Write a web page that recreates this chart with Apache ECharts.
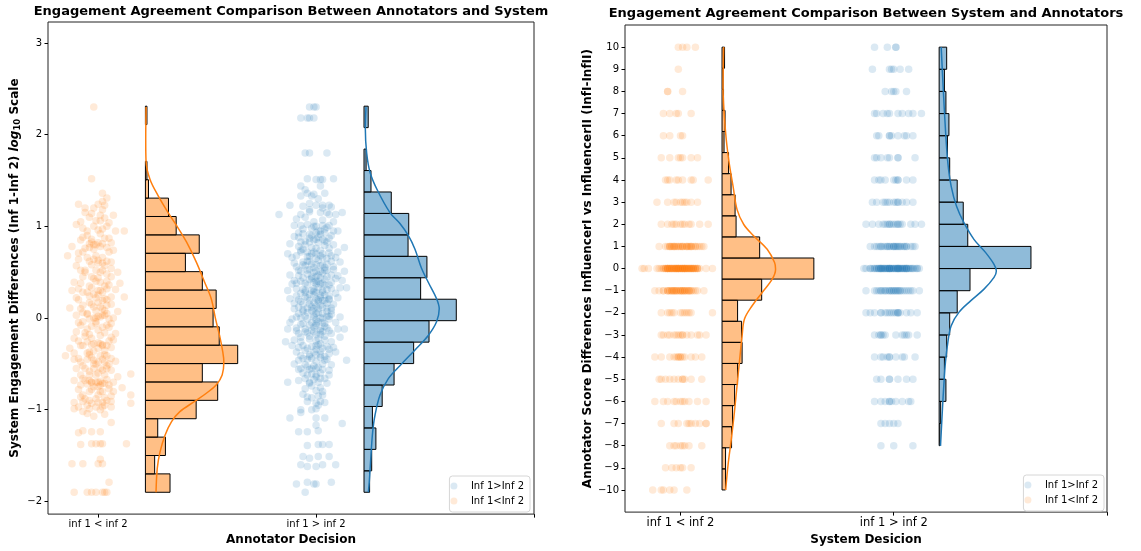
<!DOCTYPE html>
<html>
<head>
<meta charset="utf-8">
<script src="https://cdn.jsdelivr.net/npm/echarts@6/dist/echarts.min.js"></script>
<style>
html, body { margin: 0; padding: 0; background: #fff; }
#chart { width: 1141px; height: 551px; }
</style>
</head>
<body>
<div id="chart"></div>
<script>
// ---------- data ----------
const xTickLabels = ['inf 1 < inf 2', 'inf 1 > inf 2'];
const leftYTicks = [-2, -1, 0, 1, 2, 3];
const rightYTicks = [-10, -9, -8, -7, -6, -5, -4, -3, -2, -1, 0, 1, 2, 3, 4, 5, 6, 7, 8, 9, 10];
const seriesNames = ['Inf 1>Inf 2', 'Inf 1<Inf 2'];

// Left panel strip points: [jitter in hundredths of a category, log10 engagement difference]
const leftOrangePoints = [
  [-2,2.30],[-3,1.52],[2,1.36],[4,1.31],[-9,1.24],[-6,1.20],[0,1.24],[3,1.23],[2,1.27],[-3,1.14],[7,1.12],
  [-8,1.05],[-1,1.06],[1,1.06],[5,1.04],[8,0.95],[12,0.95],[-2,1.00],[2,0.97],[-5,0.90],[-7,0.88],[-3,0.83],
  [0,0.82],[6,0.82],[4,0.77],[-4,0.77],[-14,0.68],[-9,0.71],[-7,0.72],[5,0.72],[-1,0.68],[2,0.66],[-2,0.64],
  [6,0.61],[-8,0.52],[-6,0.52],[-1,0.52],[2,0.52],[6,0.54],[-11,0.39],[-2,0.43],[6,0.45],[10,0.38],[-4,0.35],
  [1,0.39],[-9,0.32],[4,0.32],[12,0.23],[-7,0.28],[-2,0.26],[2,0.28],[6,0.23],[-4,0.17],[0,0.17],[4,0.14],
  [-13,0.11],[-8,0.10],[-1,0.08],[9,0.07],[-4,-0.01],[2,0.03],[5,-0.01],[-7,-0.04],[-1,-0.04],[6,-0.06],
  [-11,-0.22],[-5,-0.12],[0,-0.13],[6,-0.21],[8,-0.17],[-7,-0.30],[-2,-0.28],[2,-0.29],[6,-0.32],[-15,-0.41],
  [-11,-0.38],[-4,-0.37],[1,-0.41],[4,-0.41],[-8,-0.48],[-5,-0.45],[-1,-0.50],[3,-0.48],[8,-0.47],[-6,-0.55],
  [-2,-0.55],[2,-0.57],[6,-0.57],[15,-0.61],[-11,-0.68],[-7,-0.66],[-1,-0.70],[2,-0.71],[7,-0.70],[9,-0.64],
  [-2,-0.75],[1,-0.73],[5,-0.77],[11,-0.76],[-7,-0.84],[0,-0.84],[15,-0.84],[-11,-0.92],[-7,-0.91],[-3,-0.93],
  [2,-0.92],[6,-0.91],[15,-0.93],[-11,-0.99],[-4,-0.99],[-1,-0.97],[6,-0.97],[-5,-1.04],[6,-1.14],[-9,-1.25],
  [-3,-1.24],[1,-1.24],[-8,-1.38],[-3,-1.37],[2,-1.37],[13,-1.37],[1,-1.54],[-12,-1.59],[-7,-1.59],[2,-1.59],
  [5,-1.79],[-11,-1.90],[-5,-1.90],[-3,-1.90],[-1,-1.90],[2,-1.90],[4,-1.90],
  [-3,-0.70],[0,-0.70],[3,-0.71],[-5,-0.72],[1,-0.28],[-3,-0.29],[4,-0.30],[-2,0.00],[1,0.01],[3,0.03],
  [-1,0.80],[2,0.81],[-4,0.81],[0,-0.48],[-2,-0.50],[4,-0.52],[-4,-0.90],[0,-0.92],[3,-0.95],[-1,0.22],
  [2,0.19],[-3,0.45],[1,0.50],[-2,1.20],[2,1.18],[5,-0.10],[-6,-0.20],[-1,-0.62],[6,-0.85],[-8,-0.62],
  [0,0.60],[3,0.35],[-5,0.05],[7,0.00],[1,-1.37],[-1,-1.37],[3,-1.90],[-7,-1.23],[0,-1.59],
  [-6,1.15],[1,1.12],[-10,1.02],[4,1.00],[-5,0.95],[1,0.92],[-8,0.85],[3,0.87],[-12,0.78],[-2,0.75],
  [7,0.74],[-5,0.66],[0,0.63],[4,0.62],[-10,0.57],[-3,0.58],[3,0.57],[9,0.50],[-7,0.45],[0,0.44],
  [4,0.40],[-12,0.30],[-3,0.33],[1,0.30],[8,0.31],[-9,0.20],[-4,0.24],[3,0.21],[-7,0.14],[-2,0.12],
  [2,0.10],[6,0.15],[-10,0.03],[-5,0.04],[0,0.02],[4,0.05],[-8,-0.08],[-3,-0.09],[2,-0.10],[-10,-0.15],
  [-4,-0.18],[3,-0.16],[-9,-0.25],[-5,-0.26],[0,-0.27],[5,-0.25],[-13,-0.33],[-2,-0.36],[3,-0.35],[-9,-0.44],
  [-3,-0.43],[2,-0.45],[6,-0.44],[-10,-0.55],[-4,-0.58],[0,-0.60],[4,-0.55],[-8,-0.73],[-4,-0.68],[4,-0.67],
  [-9,-0.78],[-4,-0.80],[2,-0.80],[7,-0.80],[-6,-0.88],[3,-0.87],[-9,-0.97],[1,-1.00],[-2,-1.07],[3,-1.05],
  [-4,1.10],[3,1.09],[-7,0.98],[0,0.96],[-3,0.86],[5,0.87],[-6,0.76],[1,0.78],[-9,0.64],[-4,0.62],
  [2,0.60],[-6,0.50],[4,0.48],[-1,0.40],[-8,0.38],[5,0.36],[-5,0.28],[0,0.25],[-10,0.22],[4,0.20],
  [-3,0.15],[1,0.12],[-7,0.06],[3,0.08],[-1,-0.06],[-9,-0.05],[4,-0.08],[-6,-0.16],[1,-0.19],[-3,-0.22],
  [7,-0.24],[-8,-0.30],[0,-0.33],[-5,-0.38],[3,-0.40],[-11,-0.45],[-2,-0.46],[5,-0.50],[-7,-0.52],[1,-0.55],
  [-4,-0.62],[3,-0.62],[-6,-0.68],[0,-0.75],[5,-0.73],[-3,-0.78],[-8,-0.86],[-1,-0.88],[4,-0.90],[-5,-0.95],
  [2,-0.97],[-7,-1.02],[-3,-0.70],[1,-0.69],[-1,0.00],[-2,0.80],[0,0.30],[2,-0.30],[-4,-0.40],[1,-0.80]
];
const leftBluePoints = [
  [-3,2.30],[-1,2.30],[0,2.30],[-7,2.18],[-4,2.18],[-3,2.18],[-1,2.18],[-5,1.80],[-3,1.80],[5,1.80],
  [-4,1.52],[0,1.51],[2,1.51],[3,1.51],[8,1.52],[-7,1.44],[2,1.44],[-7,1.33],[-4,1.36],[-2,1.33],[4,1.36],
  [-12,1.23],[-6,1.22],[0,1.23],[3,1.23],[6,1.23],[7,1.21],[-17,1.13],[-7,1.13],[-3,1.16],[2,1.15],[6,1.13],
  [9,1.13],[12,1.15],[-10,1.01],[-7,1.01],[-4,1.02],[-1,1.00],[3,1.01],[6,1.01],[-8,0.93],[-3,0.91],[0,0.93],
  [4,0.93],[8,0.95],[10,0.95],[-12,0.81],[-7,0.83],[-3,0.83],[1,0.82],[5,0.83],[-13,0.70],[-7,0.72],[-4,0.72],
  [-1,0.72],[3,0.70],[6,0.71],[10,0.72],[13,0.77],[-10,0.60],[-6,0.61],[-3,0.62],[1,0.63],[7,0.62],[11,0.61],
  [-7,0.51],[-4,0.52],[-1,0.50],[2,0.51],[5,0.52],[13,0.51],[-10,0.41],[-7,0.40],[-3,0.42],[1,0.40],[4,0.42],
  [9,0.43],[12,0.41],[-13,0.30],[-9,0.32],[-5,0.30],[-1,0.32],[3,0.30],[7,0.32],[11,0.33],[14,0.33],[-12,0.21],
  [-8,0.20],[-4,0.22],[0,0.21],[3,0.19],[6,0.21],[10,0.22],[-10,0.10],[-6,0.09],[-2,0.12],[1,0.10],[5,0.11],
  [7,0.08],[-11,-0.01],[-7,0.00],[-4,-0.01],[0,-0.02],[3,0.00],[6,-0.01],[11,0.01],[-13,-0.12],[-9,-0.11],
  [-5,-0.12],[-1,-0.10],[2,-0.12],[5,-0.11],[10,-0.12],[13,-0.12],[-14,-0.26],[-10,-0.24],[-7,-0.26],[-3,-0.23],
  [0,-0.25],[4,-0.24],[7,-0.26],[11,-0.21],[-9,-0.37],[-5,-0.35],[-1,-0.37],[2,-0.36],[6,-0.39],[9,-0.37],
  [-8,-0.46],[-4,-0.45],[0,-0.47],[4,-0.46],[14,-0.46],[-7,-0.55],[-3,-0.56],[1,-0.54],[6,-0.57],[-4,-0.62],
  [0,-0.64],[6,-0.62],[-13,-0.70],[-3,-0.71],[1,-0.70],[5,-0.71],[-6,-0.83],[0,-0.79],[3,-0.84],[-4,-0.91],
  [2,-0.91],[4,-0.92],[-7,-1.00],[-2,-1.00],[0,-0.99],[-7,-1.03],[-12,-1.09],[0,-1.09],[4,-1.09],[0,-1.17],
  [12,-1.15],[-8,-1.24],[-4,-1.24],[1,-1.23],[-4,-1.39],[1,-1.38],[3,-1.38],[6,-1.38],[-6,-1.51],[-3,-1.53],
  [1,-1.51],[6,-1.51],[-7,-1.60],[-4,-1.62],[0,-1.62],[3,-1.60],[9,-1.60],[-9,-1.81],[-4,-1.79],[-1,-1.81],
  [0,-1.81],[7,-1.79],[-5,-1.90],
  [-2,0.45],[1,0.47],[-1,0.55],[2,0.25],[-3,0.15],[0,0.05],[3,-0.05],[-1,-0.15],[2,-0.18],[0,-0.30],
  [-2,0.70],[1,0.88],[-4,0.62],[4,0.36],[-1,0.10],[0,-0.08],[2,-0.28],[-3,-0.40],[1,0.33],[3,0.58],
  [-5,0.28],[5,0.02],[-2,-0.55],[0,-0.62],[2,0.95],[-1,1.05],[-6,0.75],[6,0.20],[-3,-0.70],[1,-0.85],
  [-9,1.08],[-5,1.10],[3,1.07],[8,1.05],[-2,0.98],[5,0.99],[-10,0.89],[-6,0.92],[1,0.95],[7,0.90],
  [-3,0.87],[3,0.86],[-8,0.78],[-5,0.80],[0,0.76],[4,0.79],[8,0.80],[-11,0.66],[-3,0.67],[2,0.68],
  [5,0.65],[9,0.66],[-9,0.56],[-5,0.57],[0,0.58],[4,0.55],[8,0.56],[-12,0.47],[-8,0.46],[-4,0.48],
  [0,0.45],[3,0.49],[7,0.47],[10,0.46],[-11,0.37],[-5,0.38],[-1,0.39],[2,0.37],[6,0.36],[-7,0.27],
  [-3,0.26],[0,0.28],[4,0.25],[9,0.27],[-10,0.16],[-6,0.15],[-1,0.17],[2,0.14],[5,0.16],[8,0.15],
  [-8,0.05],[-4,0.06],[-1,0.03],[3,0.05],[7,0.04],[-12,-0.05],[-6,-0.06],[-2,-0.05],[1,-0.04],[4,-0.06],
  [9,-0.05],[-8,-0.17],[-4,-0.16],[0,-0.18],[3,-0.15],[7,-0.17],[-11,-0.30],[-6,-0.30],[-2,-0.31],[1,-0.29],
  [5,-0.31],[8,-0.32],[-7,-0.41],[-3,-0.42],[0,-0.40],[4,-0.42],[-10,-0.50],[-5,-0.51],[-1,-0.52],[3,-0.50],
  [7,-0.51],[-6,-0.60],[-2,-0.61],[2,-0.60],[-8,-0.68],[-1,-0.67],[4,-0.66],[-5,-0.77],[2,-0.76],[-2,-0.87],
  [1,-0.95],[-3,1.25],[1,1.30],[-5,1.40],[0,0.70],[1,0.20],[-2,0.30],[2,-0.40],[-1,0.85],[0,0.40],
  [-6,0.97],[0,1.00],[4,0.97],[-8,0.88],[-2,0.90],[2,0.91],[6,0.87],[-5,0.84],[0,0.86],[4,0.84],
  [-7,0.74],[-2,0.77],[2,0.74],[6,0.76],[-9,0.68],[-4,0.67],[0,0.65],[3,0.66],[7,0.68],[-6,0.58],
  [-2,0.59],[2,0.57],[5,0.59],[-8,0.52],[-3,0.53],[0,0.51],[4,0.52],[8,0.53],[-6,0.44],[-2,0.43],
  [2,0.44],[5,0.45],[-9,0.38],[-4,0.36],[0,0.37],[3,0.38],[7,0.39],[-6,0.31],[-1,0.29],[3,0.28],
  [5,0.31],[-9,0.24],[-5,0.23],[-1,0.25],[2,0.22],[6,0.24],[-7,0.18],[-3,0.19],[1,0.18],[4,0.19],
  [-8,0.12],[-4,0.11],[0,0.13],[3,0.12],[7,0.11],[-6,0.07],[-2,0.08],[1,0.06],[5,0.07],[-9,0.01],
  [-5,0.02],[-1,0.01],[2,0.00],[6,0.02],[-7,-0.07],[-3,-0.08],[0,-0.06],[4,-0.09],[-9,-0.14],[-5,-0.15],
  [-2,-0.13],[2,-0.14],[6,-0.14],[-7,-0.21],[-3,-0.20],[1,-0.22],[4,-0.20],[-8,-0.32],[-4,-0.33],[0,-0.34],
  [3,-0.33],[6,-0.34],[-6,-0.44],[-2,-0.44],[2,-0.43],[5,-0.45],[-8,-0.56],[-4,-0.53],[0,-0.55],[3,-0.56],
  [-5,-0.66],[2,-0.66],[-2,-0.74],[3,-0.80],[-4,-0.86],[0,-0.93],[-3,1.18],[3,1.20],[-1,1.35],[5,1.15]
];

// Right panel strip points: score difference levels and the jitter (hundredths) of each point on that level
const rightOrangeLevels = [10, 9, 8, 7, 6, 5, 4, 3, 2, 1, 0, -1, -2, -3, -4, -5, -6, -7, -8, -9, -10];
const rightOrangeJitter = [
  [-1,1,3,7],
  [-1],
  [-6,-6,1],
  [-8,-5,-2,-1,5],
  [-8,-5,0,1],
  [-9,-5,-1,0,1,5,8],
  [-7,-6,-5,-2,-1,1,5,6,13],
  [-11,-6,-3,0,1,3,5,8,-2,2],
  [-9,-6,-4,-2,0,2,4,5,9,13,-3,1],
  [-10,-6,-5,-4,-3,-2,0,1,3,4,5,7,9,10,11,-4,-3,-2,-1,0,1,2,3,4,5,-5,6,-7,-5,-3,-1,1,3,5,7,8],
  [-18,-17,-15,-11,-10,-8,-7,-6,-6,-5,-4,-3,-2,-1,-1,0,1,1,2,3,4,5,5,6,7,8,8,12,15,
   -7,-6,-5,-4,-3,-2,-1,0,1,2,3,4,5,6,7,-4,-2,0,2,4,-5,-3,-1,1,3,
   -9,-8,-7,-6,-5,-4,-3,-2,-1,0,1,2,3,4,5,6,7,8,9,-6,-2,2,6],
  [-12,-10,-8,-6,-5,-4,-3,-3,-2,-1,0,1,1,2,3,4,5,5,7,11,-6,-4,-2,0,2,4,-5,-1,3,-8,-6,-4,-2,0,2,4,6,8,-3,1],
  [-9,-6,-5,-3,0,1,2,4,5,15,-4,3],
  [-9,-8,-6,-5,-3,-2,0,1,3,5,8,9,12,-1,1],
  [-12,-9,-5,-3,-2,-1,0,1,2,5,7,10,-1,0],
  [-10,-9,-7,-5,-3,-1,1,1,2,5,10],
  [-12,-8,-6,-3,-2,0,1,2,4,8,12],
  [-9,-3,-1,3,4,5,7,9,12,12],
  [-5,-3,-2,0,1,2,4,10],
  [-7,-4,-2,0,1,5],
  [-13,-9,-8,-5,-3,3]
];
const rightBlueLevels = [10, 9, 8, 7, 6, 5, 4, 3, 2, 1, 0, -1, -2, -3, -4, -5, -6, -7, -8];
const rightBlueJitter = [
  [-9,-3,1,1],
  [-10,-2,-1,0,3,7],
  [-4,-1,0,1,6],
  [-9,-8,-5,-3,-2,2,4,7,9,13],
  [-8,-7,-2,-2,-1,2,5,6,9],
  [-9,-8,-6,-3,-2,2,2,10],
  [-9,-7,-6,-4,0,1,2,2,6,9],
  [-10,-8,-5,-4,-2,0,2,2,4,6,9,-3,1],
  [-13,-10,-7,-5,-3,-2,-2,0,2,2,3,8,10,13,-4,-1,1,4],
  [-11,-9,-7,-6,-5,-3,-2,0,1,2,3,5,6,8,10,-4,-2,-1,0,1,2,4,5,-8,-6,-3,0,3,6,9],
  [-14,-13,-11,-9,-8,-7,-6,-6,-5,-4,-3,-2,-2,-1,0,1,2,2,3,4,5,6,6,8,9,11,12,
   -8,-6,-4,-2,0,2,4,6,8,-7,-5,-3,-1,1,3,5,7,-4,-2,0,2,4,-10,10,
   -11,-9,-7,-5,-3,-1,1,3,5,7,9,11,-6,-2,2,6],
  [-13,-8,-6,-6,-4,-3,-2,-1,0,1,2,3,5,8,9,12,-5,-2,0,2,4,6,-9,-7,-4,-1,1,3,7],
  [-13,-11,-9,-6,-6,-4,-2,-1,1,2,2,3,6,8,11,-3,0,2],
  [-9,-7,-6,-6,-5,-4,1,4,5,6,7,11],
  [-9,-6,-5,-3,-2,-2,1,4,5,10],
  [-8,-6,-2,-2,2,6,9],
  [-9,-6,-4,-2,-2,-1,1,4,7,8],
  [-6,-4,-2,0,2],
  [-6,0,9]
];

// Histogram counts (bins listed bottom to top) and the value range they cover
const leftOrangeRange = [-1.90, 2.31];
const leftOrangeCounts = [16, 6, 13, 8, 33, 47, 37, 60, 48, 44, 46, 37, 26, 35, 20, 15, 2, 1, 0, 0, 1];
const leftBlueRange = [-1.90, 2.31];
const leftBlueCounts = [8, 11, 17, 12, 26, 43, 71, 93, 132, 81, 90, 63, 64, 39, 10, 3, 0, 6];
const rightOrangeRange = [-10, 10];
const rightOrangeCounts = [7, 7, 19, 21, 25, 31, 40, 39, 31, 79, 183, 75, 28, 26, 18, 13, 4, 6, 3, 2, 5];
const rightBlueRange = [-8, 10];
const rightBlueCounts = [1, 2, 9, 7, 10, 14, 24, 41, 122, 38, 32, 24, 14, 11, 13, 9, 7, 10];

// Kernel density curves in histogram count units: [value, density]
const leftOrangeKde = [
  [2.30,0.4],[1.95,0.2],[1.71,0.4],[1.51,3.0],[1.33,8.4],[1.13,15.5],[1.01,20.2],[0.83,26.7],[0.61,33.1],
  [0.39,38.5],[0.21,42.8],[-0.01,45.6],[-0.19,48.2],[-0.37,50.3],[-0.48,51.0],[-0.62,49.9],[-0.73,46.0],
  [-0.82,39.6],[-0.91,32.0],[-1.02,22.4],[-1.13,17.0],[-1.28,12.7],[-1.46,9.5],[-1.64,7.7],[-1.90,6.9]
];
const leftBlueKde = [
  [2.30,2.9],[2.06,1.9],[1.80,3.8],[1.59,8.6],[1.41,18.1],[1.15,37.1],[1.03,51.4],[0.90,63.3],[0.75,72.9],
  [0.54,82.4],[0.39,91.9],[0.21,103.8],[0.10,107.6],[-0.04,103.8],[-0.19,91.9],[-0.33,75.2],[-0.52,51.4],
  [-0.66,34.8],[-0.84,22.9],[-1.06,15.7],[-1.24,12.4],[-1.49,10.0],[-1.78,7.6],[-1.90,6.2]
];
const rightOrangeKde = [
  [10,3.3],[8.2,2.0],[6.26,6.7],[4.91,13.3],[3.71,22],[2.66,30],[1.99,43.3],[1.47,63.3],[0.87,90],
  [0.27,104.7],[-0.03,106.7],[-0.48,100],[-1.08,80],[-1.68,60],[-2.28,44.7],[-3.03,40],[-4.07,35.3],
  [-5.27,30],[-6.47,24.7],[-7.67,18.7],[-8.86,12],[-10,7.3]
];
const rightBlueKde = [
  [10,2.7],[8.2,5.3],[6.26,8.4],[4.76,11.6],[3.71,16],[2.81,23.1],[2.07,32.9],[1.32,46.2],[0.72,61.8],
  [0.19,72.9],[-0.11,76],[-0.40,72.9],[-0.93,59.6],[-1.46,41.8],[-1.98,26.2],[-2.58,16],[-3.32,11.6],
  [-4.22,8.4],[-5.27,6.2],[-6.32,4.4],[-8.01,1.8]
];

// ---------- styling ----------
const FONT = 'DejaVu Sans';
const ORANGE = '#ff7f0e', BLUE = '#1f77b4';
const ORANGE_PT = 'rgba(255,127,14,0.2)', BLUE_PT = 'rgba(31,119,180,0.2)';
const ORANGE_BAR = 'rgba(255,127,14,0.5)', BLUE_BAR = 'rgba(31,119,180,0.5)';
const minus = v => (v < 0 ? '\u2212' + (-v) : String(v));

// ---------- series builders ----------
function stripSeries(name, grid, cat, points, color) {
  return {
    type: 'scatter', name, xAxisIndex: grid, yAxisIndex: grid, z: 2,
    symbolSize: 7.5, silent: true,
    itemStyle: { color, borderWidth: 0 },
    data: points.map(p => [cat + p[0] / 100, p[1]])
  };
}
function levelSeries(name, grid, cat, levels, jitter, color) {
  const pts = [];
  levels.forEach((lv, i) => jitter[i].forEach(j => pts.push([j, lv])));
  return stripSeries(name, grid, cat, pts, color);
}
function histSeries(grid, cat, base, span, counts, range, color) {
  const w = (range[1] - range[0]) / counts.length;
  const k = span / Math.max(...counts);
  const data = [];
  counts.forEach((c, i) => { if (c > 0) data.push([range[0] + i * w, range[0] + (i + 1) * w, c]); });
  return {
    type: 'custom', xAxisIndex: grid, yAxisIndex: grid, z: 3, silent: true,
    data,
    encode: { x: 2, y: [0, 1] },
    renderItem(params, api) {
      const lo = api.value(0), hi = api.value(1), c = api.value(2);
      const p0 = api.coord([cat + base, hi]);
      const p1 = api.coord([cat + base + c * k, lo]);
      return {
        type: 'rect',
        shape: { x: p0[0], y: p0[1], width: p1[0] - p0[0], height: p1[1] - p0[1] },
        style: { fill: color, stroke: '#000', lineWidth: 1 }
      };
    }
  };
}
function kdeSeries(grid, cat, base, span, counts, kde, color) {
  const k = span / Math.max(...counts);
  return {
    type: 'line', xAxisIndex: grid, yAxisIndex: grid, z: 4, silent: true,
    showSymbol: false, smooth: 0.35,
    lineStyle: { color, width: 1.5 },
    data: kde.map(d => [cat + base + d[1] * k, d[0]])
  };
}

function xAxisFor(grid, min, labelSize, name) {
  return {
    type: 'value', gridIndex: grid, min, max: 2,
    splitLine: { show: false },
    axisLine: { show: false, onZero: false },
    axisTick: { show: true, length: 3.5, customValues: [0, 1, 2], lineStyle: { color: '#000', width: 1 } },
    axisLabel: {
      customValues: [0, 1], formatter: v => xTickLabels[Math.round(v)] || '',
      fontFamily: FONT, fontSize: labelSize, color: '#000', margin: 5
    },
    name, nameLocation: 'middle', nameGap: 18,
    nameTextStyle: { fontFamily: FONT, fontSize: 12, fontWeight: 'bold', color: '#000' }
  };
}
function yAxisFor(grid, min, max, ticks, labelSize, name, nameGap, rich) {
  return {
    type: 'value', gridIndex: grid, min, max,
    splitLine: { show: false },
    axisLine: { show: false, onZero: false },
    axisTick: { show: true, length: 3.5, customValues: ticks, lineStyle: { color: '#000', width: 1 } },
    axisLabel: { customValues: ticks, formatter: minus, fontFamily: FONT, fontSize: labelSize, color: '#000', margin: 6 },
    name, nameLocation: 'middle', nameRotate: 90, nameGap,
    nameTextStyle: Object.assign({ fontFamily: FONT, fontSize: 12, fontWeight: 'bold', color: '#000' }, rich ? { rich } : {})
  };
}

const legendBase = {
  orient: 'vertical', icon: 'circle', itemWidth: 14, itemHeight: 7, itemGap: 3,
  textStyle: { fontFamily: FONT, fontSize: 10, color: '#000', lineHeight: 12, padding: [0, 0, 0, 5] },
  borderColor: '#d6d6d6', borderWidth: 1, borderRadius: 3, padding: [4, 6, 5, 1],
  backgroundColor: 'rgba(255,255,255,0.8)', selectedMode: false,
  data: seriesNames
};

const option = {
  animation: false,
  backgroundColor: '#fff',
  grid: [
    { left: 48, right: 607, top: 22, bottom: 35, show: true, borderColor: '#222', borderWidth: 1, backgroundColor: 'transparent' },
    { left: 625, right: 34, top: 25, bottom: 36, show: true, borderColor: '#222', borderWidth: 1, backgroundColor: 'transparent' }
  ],
  graphic: [
    { type: 'text', x: 291, y: 12, style: { text: 'Engagement Agreement Comparison Between Annotators and System',
      font: 'bold 13px "DejaVu Sans"', fill: '#000', textAlign: 'center', textVerticalAlign: 'middle' } },
    { type: 'text', x: 866, y: 14, style: { text: 'Engagement Agreement Comparison Between System and Annotators',
      font: 'bold 13px "DejaVu Sans"', fill: '#000', textAlign: 'center', textVerticalAlign: 'middle' } }
  ],
  legend: [
    Object.assign({}, legendBase, { right: 611, bottom: 39 }),
    Object.assign({}, legendBase, { right: 37, bottom: 40 })
  ],
  xAxis: [
    xAxisFor(0, -0.23, 10, 'Annotator Decision'),
    xAxisFor(1, -0.26, 11.5, 'System Desicion')
  ],
  yAxis: [
    yAxisFor(0, -2.138, 3.228, leftYTicks, 10,
      '{b|System Engagement Differences (Inf 1-Inf 2) }{i|log}{s|10}{b| Scale}', 26,
      { b: { fontFamily: FONT, fontSize: 12, fontWeight: 'bold', color: '#000' },
        i: { fontFamily: FONT, fontSize: 12, fontStyle: 'italic', color: '#000' },
        s: { fontFamily: FONT, fontSize: 8.5, color: '#000', padding: [5, 0, 0, 0] } }),
    yAxisFor(1, -11, 11, rightYTicks, 10,
      'Annotator Score Differences InfluencerI vs InfluencerII (InfI-InfII)', 31)
  ],
  series: [
    stripSeries(seriesNames[0], 0, 1, leftBluePoints, BLUE_PT),
    stripSeries(seriesNames[1], 0, 0, leftOrangePoints, ORANGE_PT),
    histSeries(0, 0, 0.217, 0.4234, leftOrangeCounts, leftOrangeRange, ORANGE_BAR),
    histSeries(0, 1, 0.220, 0.4234, leftBlueCounts, leftBlueRange, BLUE_BAR),
    kdeSeries(0, 0, 0.217, 0.4234, leftOrangeCounts, leftOrangeKde, ORANGE),
    kdeSeries(0, 1, 0.220, 0.4234, leftBlueCounts, leftBlueKde, BLUE),

    levelSeries(seriesNames[0], 1, 1, rightBlueLevels, rightBlueJitter, BLUE_PT),
    levelSeries(seriesNames[1], 1, 0, rightOrangeLevels, rightOrangeJitter, ORANGE_PT),
    histSeries(1, 0, 0.195, 0.4305, rightOrangeCounts, rightOrangeRange, ORANGE_BAR),
    histSeries(1, 1, 0.213, 0.4305, rightBlueCounts, rightBlueRange, BLUE_BAR),
    kdeSeries(1, 0, 0.195, 0.4305, rightOrangeCounts, rightOrangeKde, ORANGE),
    kdeSeries(1, 1, 0.213, 0.4305, rightBlueCounts, rightBlueKde, BLUE)
  ]
};

const chart = echarts.init(document.getElementById('chart'), null, { renderer: 'canvas' });
chart.setOption(option);
</script>
</body>
</html>
